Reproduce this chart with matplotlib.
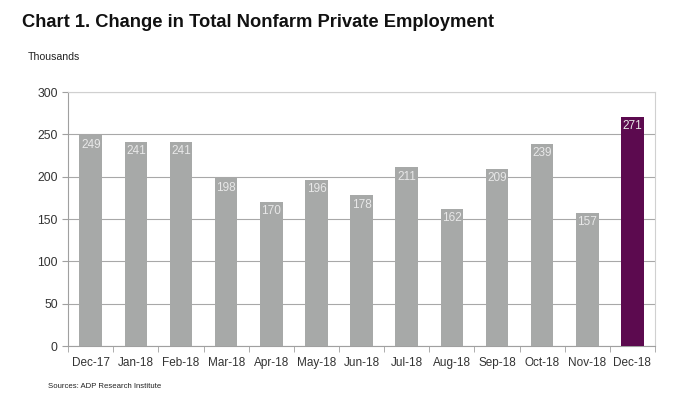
import matplotlib
matplotlib.use("Agg")
from matplotlib import pyplot as plt
import numpy as np

plt.rcParams['font.family'] = ['Liberation Sans', 'DejaVu Sans']

months = ['Dec-17', 'Jan-18', 'Feb-18', 'Mar-18', 'Apr-18', 'May-18', 'Jun-18',
          'Jul-18', 'Aug-18', 'Sep-18', 'Oct-18', 'Nov-18', 'Dec-18']
change = [249, 241, 241, 198, 170, 196, 178, 211, 162, 209, 239, 157, 271]
bar_colors = ['#a7a9a8'] * 12 + ['#5c0a4f']

fig = plt.figure(figsize=(6.96, 4.09), dpi=100)
ax = fig.add_axes([0.098, 0.154, 0.843, 0.621])

x = np.arange(len(months))
ax.bar(x, change, width=0.5, color=bar_colors, zorder=3)
for xi, v in zip(x, change):
    ax.text(xi, v - 4, str(v), ha='center', va='top', color='#e8e8e8', fontsize=8.5, zorder=4)

ax.set_xlim(-0.5, len(months) - 0.5)
ax.set_ylim(0, 300)
ax.set_yticks(np.arange(0, 301, 50))
ax.yaxis.grid(True, color='#a8a8a8', linewidth=0.8, zorder=0)
ax.set_xticks(x)
ax.set_xticklabels(months)
ax.set_xticks(np.arange(-0.5, len(months), 1), minor=True)
ax.tick_params(axis='x', which='major', length=0, labelsize=8.5, pad=8, labelcolor='#333333')
ax.tick_params(axis='x', which='minor', length=4, color='#a0a0a0', direction='out')
ax.tick_params(axis='y', length=4, color='#a0a0a0', labelsize=8.8, labelcolor='#333333')

for s in ['top', 'right']:
    ax.spines[s].set_color('#d0d0d0')
    ax.spines[s].set_linewidth(0.8)
for s in ['left', 'bottom']:
    ax.spines[s].set_color('#a0a0a0')
    ax.spines[s].set_linewidth(0.8)

fig.text(0.032, 0.945, 'Chart 1. Change in Total Nonfarm Private Employment',
         fontsize=13.2, fontweight='bold', color='#111111', va='center')
fig.text(0.04, 0.86, 'Thousands', fontsize=7.6, color='#222222', va='center')
fig.text(0.069, 0.055, 'Sources: ADP Research Institute', fontsize=5.6, color='#222222', va='center')

fig.savefig('out.png', dpi=100)
